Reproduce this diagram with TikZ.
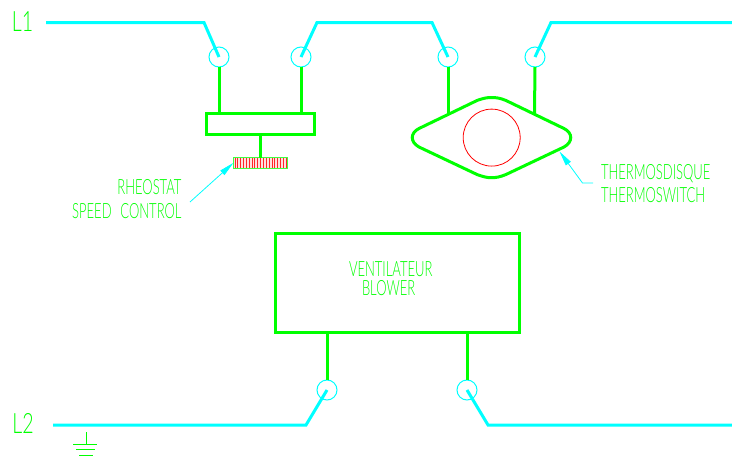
\documentclass[tikz,border=0pt]{standalone}
\usepackage{fontspec}
\setmainfont{Lato}[UprightFont=* Light]
\usetikzlibrary{arrows.meta}
\definecolor{cadcyan}{RGB}{0,255,255}
\definecolor{cadgreen}{RGB}{0,255,0}
\definecolor{cadred}{RGB}{255,0,0}
\tikzset{
  phase/.style={draw=cadcyan,line width=3pt,line join=miter},
  wire/.style={draw=cadgreen,line width=3pt},
  term/.style={circle,draw=cadcyan,line width=1pt,minimum size=20pt,inner sep=0pt,outer sep=0pt},
  boxnode/.style={rectangle,draw=cadgreen,line width=3pt,inner sep=0pt,outer sep=0pt},
  leader/.style={draw=cadcyan,line width=.8pt,-{Triangle[length=15pt,width=6pt,fill=cadcyan]}},
  lbl/.style={text=cadgreen,inner sep=0pt,outer sep=0pt,font=\fontsize{21}{21}\selectfont,xscale=.62,transform shape},
  lblbig/.style={text=cadgreen,inner sep=0pt,outer sep=0pt,font=\fontsize{28}{28}\selectfont,xscale=.7,transform shape},
  gnd/.style={draw=cadgreen,line width=1pt}
}
\begin{document}
\begin{tikzpicture}[x=1pt,y=-1pt]
\useasboundingbox (0,0) rectangle (732,458);
% terminals
\node[term] (t1) at (219,57) {};
\node[term] (t2) at (301,57) {};
\node[term] (t3) at (448,57) {};
\node[term] (t4) at (535,57) {};
\node[term] (b1) at (327,390) {};
\node[term] (b2) at (467,390) {};
% free ends
\coordinate (l1a) at (46,22.5);
\coordinate (l1b) at (204,22.5);
\coordinate (m1) at (317,22.5);
\coordinate (m2) at (432,22.5);
\coordinate (r1) at (551,22.5);
\coordinate (r2) at (732,22.5);
\coordinate (l2a) at (53,425);
\coordinate (l2b) at (306,425);
\coordinate (l2c) at (488,425);
\coordinate (l2d) at (732,425);
\draw[phase] (l1a) -- (l1b) -- (t1.center);
\draw[phase] (t2.center) -- (m1) -- (m2) -- (t3.center);
\draw[phase] (t4.center) -- (r1) -- (r2);
\draw[phase] (l2a) -- (l2b) -- (b1.center);
\draw[phase] (b2.center) -- (l2c) -- (l2d);
% rheostat
\node[boxnode,minimum width=108pt,minimum height=21pt] (rheo) at (260.5,124) {};
\node[rectangle,draw=cadgreen!75!white,line width=1pt,minimum width=54pt,minimum height=10.5pt,inner sep=0pt,outer sep=0pt,fill=cadred!12,
  path picture={\foreach \i in {0,...,18}{\draw[cadred!85!white,line width=1pt] (-25.5+\i*2.85,-8) -- (-25.5+\i*2.85,8);}}] (bar) at (260.5,162.8) {};
\draw[wire] (t1.south) -- (t1.south |- rheo.north);
\draw[wire] (t2.south) -- (t2.south |- rheo.north);
\draw[wire] (rheo.south) -- (bar.north);
% thermoswitch
\coordinate (thA) at (448,113.5);
\coordinate (thB) at (534.5,113.5);
\draw[cadgreen,line width=3pt] (477,100.5) .. controls (484,98) and (487,97.5) .. (491.7,97.5)
  .. controls (496,97.5) and (500,98) .. (506,100.5)
  -- (564,128.5) .. controls (573,133) and (573,142) .. (564,147)
  -- (506,174.5) .. controls (500,177) and (496,177.7) .. (491.7,177.7)
  .. controls (487,177.7) and (484,177) .. (477,174.5)
  -- (419,147) .. controls (410,142) and (410,133) .. (419,128.5) -- cycle;
\node[circle,draw=cadred,line width=.8pt,minimum size=57pt,inner sep=0pt,outer sep=0pt] (disc) at (491.7,137.6) {};
\draw[wire] (t3.south) -- (thA);
\draw[wire] (t4.south) -- (thB);
% blower
\node[boxnode,minimum width=244pt,minimum height=99pt] (blower) at (397,282.5) {};
\draw[wire] (blower.south -| b1) -- (b1.north);
\draw[wire] (blower.south -| b2) -- (b2.north);
% leaders
\coordinate (lead1) at (190,202);
\coordinate (lead2) at (593,183);
\coordinate (lead2k) at (582.5,183);
\coordinate (tip2) at (559.5,151.5);
\draw[leader] (lead1) -- (bar.west);
\draw[leader] (lead2) -- (lead2k) -- (tip2);
% ground
\coordinate (g0) at (86,432);
\coordinate (g1) at (86,444.5);
\draw[gnd] (g0) -- (g1);
\draw[gnd] (73,444.5) -- (97,444.5);
\draw[gnd] (76,449.8) -- (95,449.8);
\draw[gnd] (79,455) -- (93,455);
% labels
\node[lblbig,anchor=base west] (tl1) at (12,31) {L1};
\node[lblbig,anchor=base west] (tl2) at (12.5,433) {L2};
\node[lbl,anchor=base east] (t5) at (181.5,194) {RHEOSTAT};
\node[lbl,anchor=base east] (t6) at (181.5,218) {SPEED\hspace{.4em} CONTROL};
\node[lbl,anchor=base west] (t7) at (601,179) {THERMOSDISQUE};
\node[lbl,anchor=base west] (t8) at (601,202) {THERMOSWITCH};
\node[lbl,anchor=base west] (t9) at (349,276) {VENTILATEUR};
\node[lbl,anchor=base west] (t10) at (362,295) {BLOWER};
\end{tikzpicture}
\end{document}
